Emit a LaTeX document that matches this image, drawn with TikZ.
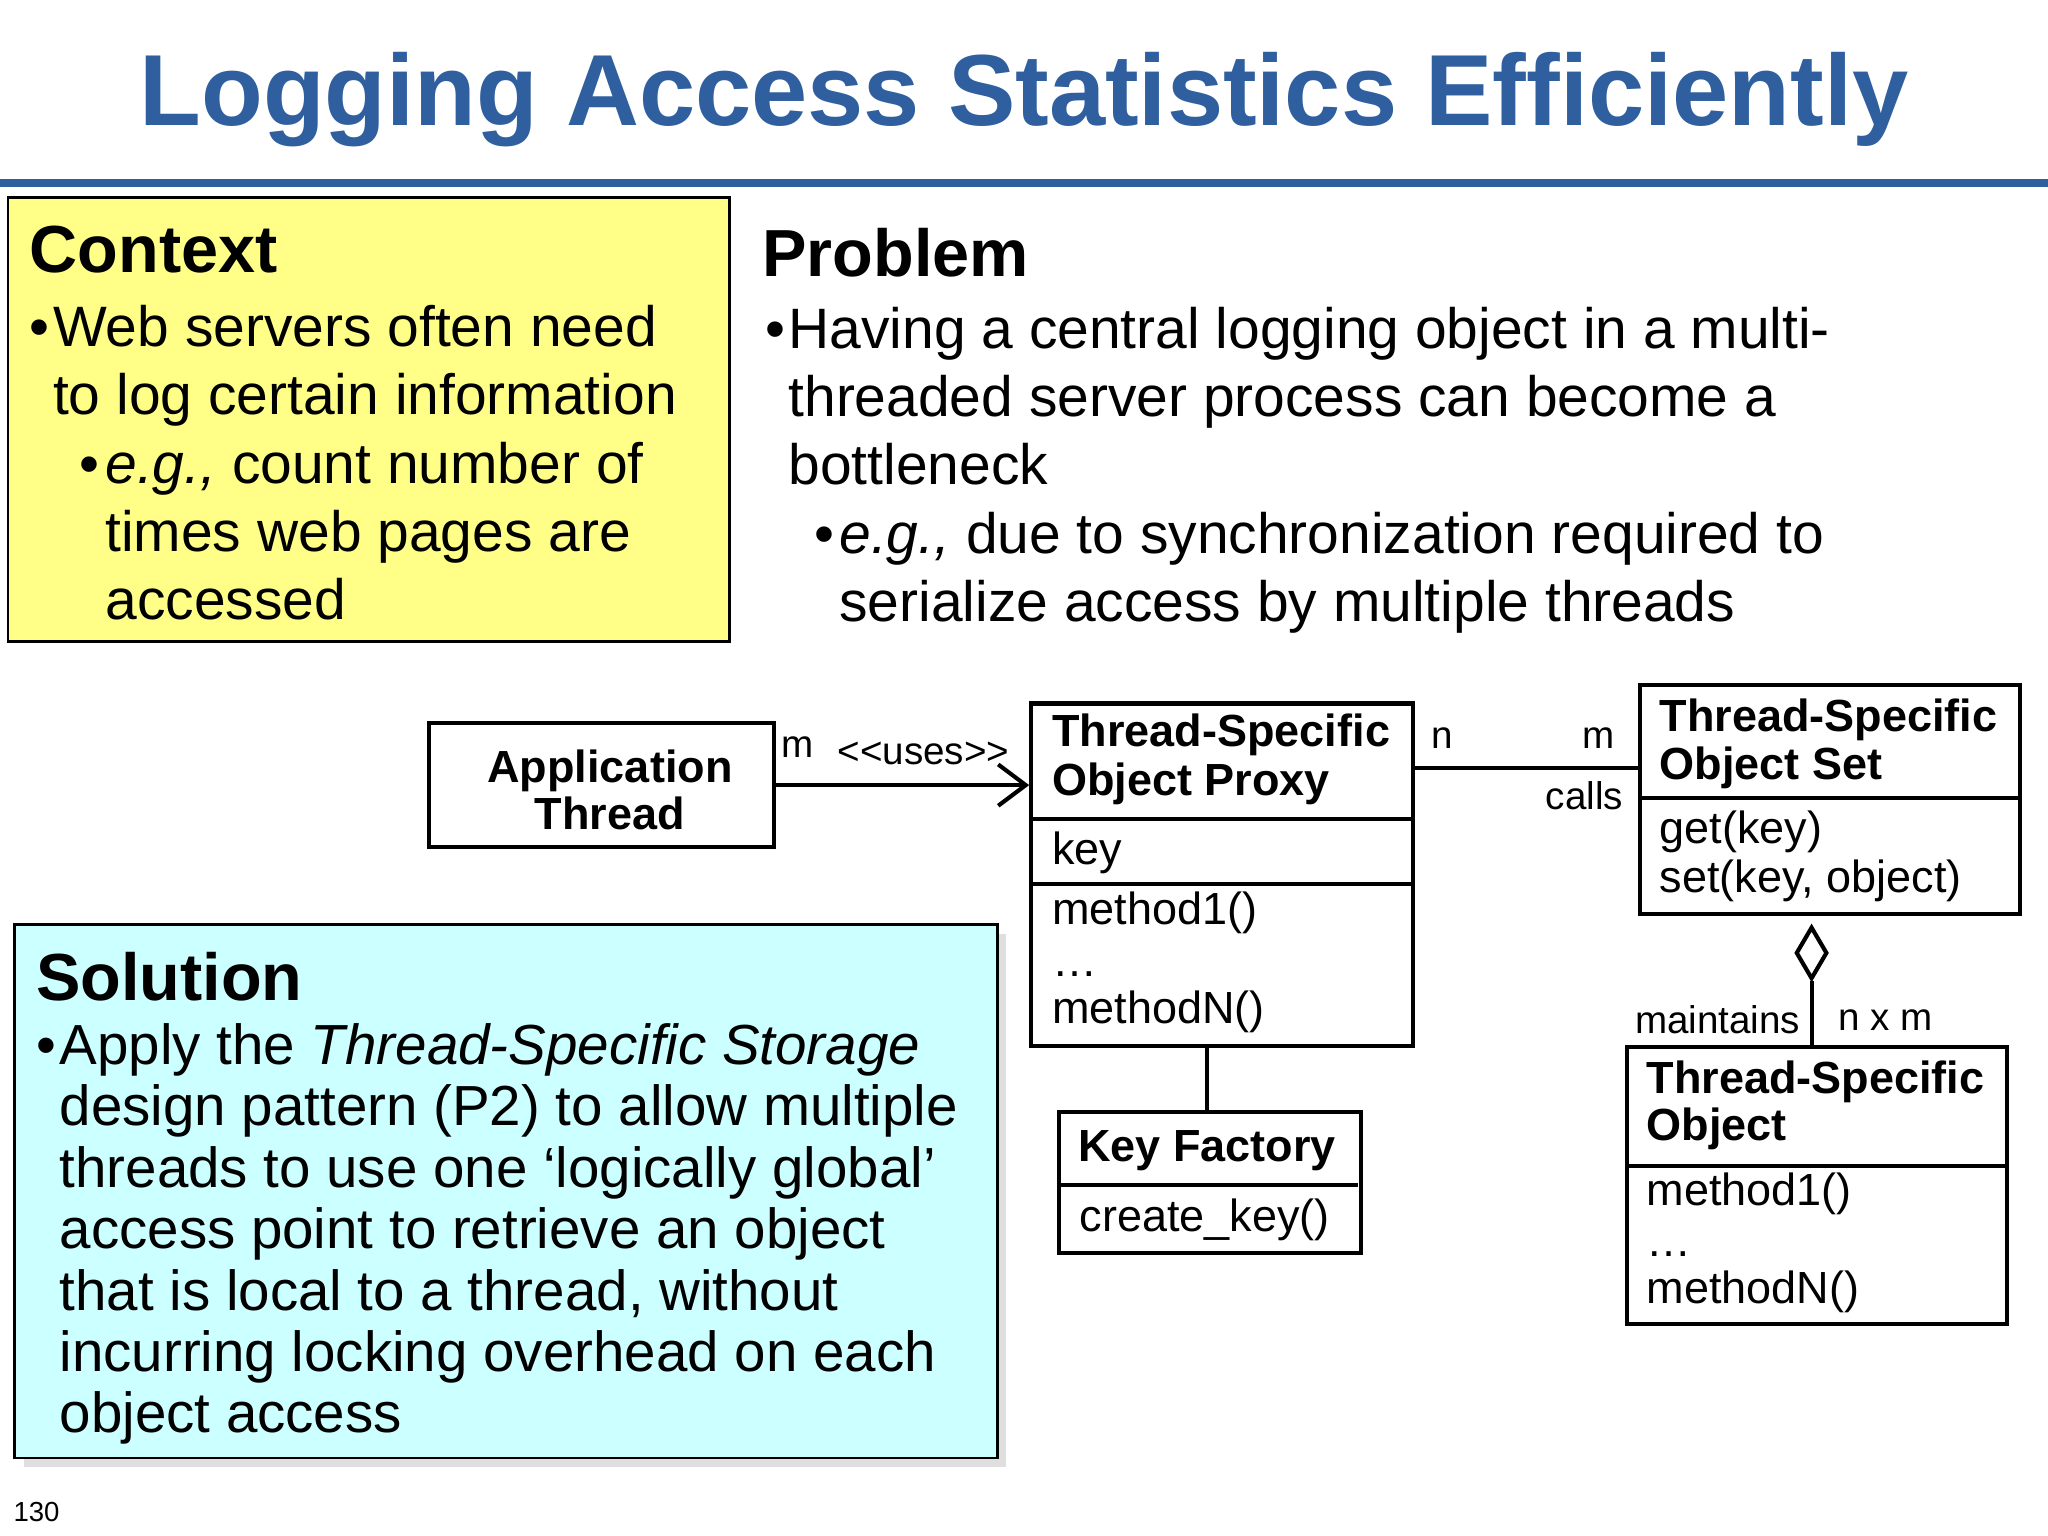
\documentclass[tikz,border=0pt]{standalone}
\usepackage{fontspec}
\setmainfont{Liberation Sans}
\usetikzlibrary{shapes.geometric,arrows.meta,shadows}
\definecolor{ttl}{HTML}{2F5F9F}
\definecolor{ctx}{HTML}{FFFF88}
\definecolor{sol}{HTML}{CCFFFF}
\tikzset{
  body/.style={anchor=base west,inner sep=0pt,font=\fontsize{12.4}{14}\selectfont},
  sbody/.style={anchor=base west,inner sep=0pt,font=\fontsize{12.3}{13}\selectfont},
  head/.style={anchor=base west,inner sep=0pt,font=\fontsize{14.5}{17}\selectfont\bfseries},
  umlbox/.style={draw,line width=0.9pt,anchor=north west,inner sep=0pt},
  ubold/.style={inner sep=0pt,font=\fontsize{9.8}{11}\selectfont\bfseries},
  ureg/.style={anchor=base west,inner sep=0pt,font=\fontsize{9.8}{11}\selectfont},
  usmall/.style={inner sep=0pt,font=\fontsize{8.4}{9}\selectfont},
}
\begin{document}
\begin{tikzpicture}[x=0.01cm,y=-0.01cm]
\useasboundingbox (0,0) rectangle (1568,1176);
\node[font=\fontsize{22}{27}\selectfont\bfseries,text=ttl,inner sep=0pt] (title) at (784,76) {Logging Access Statistics Efficiently};
\fill[ttl] (0,137) rectangle (1568,143);
% context
\node[umlbox,fill=ctx,minimum width=5.52cm,minimum height=3.40cm,line width=0.6pt] (ctxbox) at (5,150) {};
\node[head] at (22,209) {Context};
\node[body] at (22,265) {\textbullet};
\node[body] at (40,265) {Web servers often need};
\node[body] at (40,317) {to log certain information};
\node[body] at (60,370) {\textbullet};
\node[body] at (80,370) {\textit{e.g.,} count number of};
\node[body] at (80,422) {times web pages are};
\node[body] at (80,474) {accessed};
% problem
\node[head] at (583,212) {Problem};
\node[body] at (585,267) {\textbullet};
\node[body] at (603,267) {Having a central logging object in a multi-};
\node[body] at (603,319) {threaded server process can become a};
\node[body] at (603,371) {bottleneck};
\node[body] at (623,424) {\textbullet};
\node[body] at (642,424) {\textit{e.g.,} due to synchronization required to};
\node[body] at (642,476) {serialize access by multiple threads};
% solution
\node[umlbox,fill=sol,minimum width=7.52cm,minimum height=4.08cm,line width=0.6pt,drop shadow={shadow xshift=2pt,shadow yshift=-2pt,fill=gray!50}] (solbox) at (10,707) {};
\node[head] at (27,766) {Solution};
\node[sbody] at (27,815) {\textbullet};
\node[sbody] at (45,815) {Apply the \textit{Thread-Specific Storage}};
\node[sbody] at (45,862) {design pattern (P2) to allow multiple};
\node[sbody] at (45,909) {threads to use one ‘logically global’};
\node[sbody] at (45,956) {access point to retrieve an object};
\node[sbody] at (45,1003) {that is local to a thread, without};
\node[sbody] at (45,1050) {incurring locking overhead on each};
\node[sbody] at (45,1097) {object access};
\node[inner sep=0pt,font=\fontsize{6}{7}\selectfont] (pg) at (28,1158) {130};
% UML
\node[umlbox,minimum width=2.64cm,minimum height=0.95cm] (app) at (327,552) {};
\node[ubold] at (467,590) {Application};
\node[ubold] at (467,623) {Thread};
\node[umlbox,minimum width=2.92cm,minimum height=2.62cm] (proxy) at (788,537) {};
\draw[line width=0.9pt] (788,627) -- (1080,627) (788,677) -- (1080,677);
\node[ubold,anchor=west] at (805,563) {Thread-Specific};
\node[ubold,anchor=west] at (805,600) {Object Proxy};
\node[ureg] at (805,662) {key};
\node[ureg] at (805,708) {method1()};
\node[ureg] at (805,748) {\dots};
\node[ureg] at (805,784) {methodN()};
\node[umlbox,minimum width=2.91cm,minimum height=1.75cm] (tss) at (1254,523) {};
\draw[line width=0.9pt] (1254,611) -- (1545,611);
\node[ubold,anchor=west] at (1270,551) {Thread-Specific};
\node[ubold,anchor=west] at (1270,588) {Object Set};
\node[ureg] at (1270,646) {get(key)};
\node[ureg] at (1270,683) {set(key, object)};
\node[umlbox,minimum width=2.91cm,minimum height=2.12cm] (tso) at (1244,800) {};
\draw[line width=0.9pt] (1244,893) -- (1535,893);
\node[ubold,anchor=west] at (1260,828) {Thread-Specific};
\node[ubold,anchor=west] at (1260,864) {Object};
\node[ureg] at (1260,923) {method1()};
\node[ureg] at (1260,962) {\dots};
\node[ureg] at (1260,998) {methodN()};
\node[umlbox,minimum width=2.31cm,minimum height=1.08cm] (kf) at (809,850) {};
\draw[line width=0.9pt] (809,907) -- (1040,907);
\node[ubold] at (924,881) {Key Factory};
\node[ureg] at (826,943) {create\_key()};
% connectors
\draw[line width=0.9pt,-{Straight Barb[length=6pt,width=9pt]}] (app.east) -- (proxy.west |- app.east);
\node[usmall] at (611,572) {m};
\node[usmall] at (707,577) {<{}<uses>{}>};
\coordinate (pc) at (1083,588);
\draw[line width=0.9pt] (pc) -- (tss.west |- pc);
\node[usmall] at (1104,565) {n};
\node[usmall] at (1224,565) {m};
\node[usmall] at (1213,609) {calls};
\node[diamond,draw,line width=0.9pt,minimum width=0.24cm,minimum height=0.40cm,inner sep=0pt,anchor=north] (dia) at (1387,708) {};
\draw[line width=0.9pt] (dia.south) -- (dia.south |- tso.north);
\node[usmall,anchor=east] at (1379,781) {maintains};
\node[usmall,anchor=west] at (1407,781) {n x m};
\draw[line width=0.9pt] (proxy.south -| 924,0) -- (kf.north -| 924,0);
\end{tikzpicture}
\end{document}
